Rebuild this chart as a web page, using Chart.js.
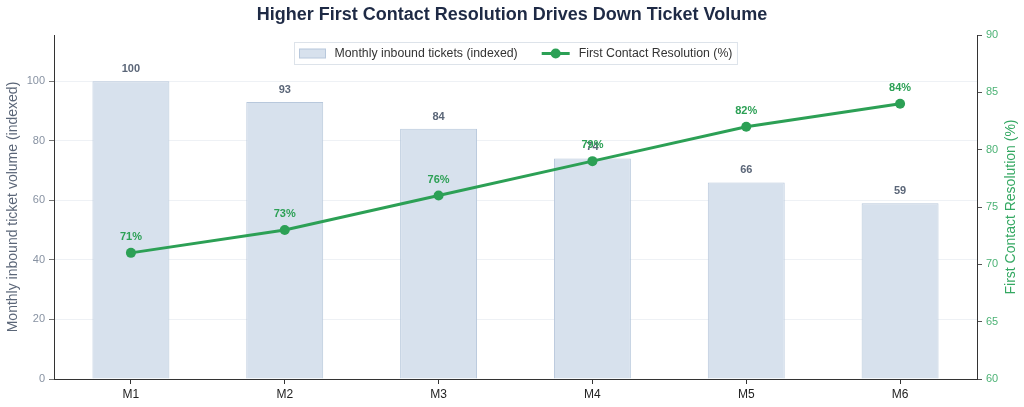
<!DOCTYPE html>
<html>
<head>
<meta charset="utf-8">
<script src="https://cdn.jsdelivr.net/npm/chart.js@4.4.1/dist/chart.umd.min.js"></script>
<style>
    html, body { margin: 0; padding: 0; background: #fff; }
    #wrap { width: 1024px; height: 407px; position: relative; }
</style>
</head>
<body>
<div id="wrap"><canvas id="myChart"></canvas></div>
<script>
// Chart data
var months = ["M1", "M2", "M3", "M4", "M5", "M6"];
var ticketVolume = [100, 93, 84, 74, 66, 59];
var fcrRate = [71, 73, 76, 79, 82, 84];
var volumeTicks = [0, 20, 40, 60, 80, 100];
var fcrTicks = [60, 65, 70, 75, 80, 85, 90];

var FONT = '"Liberation Sans", Arial, sans-serif';
var GREEN = "#2ca055";
var BAR_FILL = "#d7e1ed";
var BAR_EDGE = "#b8c8dc";

// Value labels, right axis title and the boxed legend inside the plot
var extras = {
    id: "extras",
    afterDatasetsDraw(chart) {
        var ctx = chart.ctx;
        ctx.save();
        ctx.textAlign = "center";
        ctx.textBaseline = "middle";
        ctx.font = "bold 11px " + FONT;
        ctx.fillStyle = "#5b6678";
        chart.getDatasetMeta(0).data.forEach((bar, i) => {
            ctx.fillText(ticketVolume[i], bar.x, bar.y - 12);
        });
        ctx.fillStyle = GREEN;
        chart.getDatasetMeta(1).data.forEach((pt, i) => {
            ctx.fillText(fcrRate[i] + "%", pt.x, pt.y - 16);
        });
        ctx.restore();
    },
    afterDraw(chart) {
        var ctx = chart.ctx;
        var area = chart.chartArea;

        // right axis title, reading bottom to top
        ctx.save();
        ctx.translate(1011, (area.top + area.bottom) / 2);
        ctx.rotate(-Math.PI / 2);
        ctx.textAlign = "center";
        ctx.textBaseline = "middle";
        ctx.font = "14px " + FONT;
        ctx.fillStyle = "#34a862";
        ctx.fillText("First Contact Resolution (%)", 0, 0);
        ctx.restore();

        // legend
        var ds = chart.data.datasets;
        ctx.save();
        ctx.font = "12.3px " + FONT;
        var w1 = ctx.measureText(ds[0].label).width;
        var w2 = ctx.measureText(ds[1].label).width;
        var total = 5 + 26 + 9 + w1 + 24 + 28 + 9 + w2 + 5;
        var left = Math.round((area.left + area.right) / 2 - total / 2) + 0.5;
        var top = Math.round(area.top + 7) + 0.5;
        var h = 22;
        var cy = top + h / 2;
        ctx.fillStyle = "rgba(255,255,255,0.85)";
        ctx.fillRect(left, top, total, h);
        ctx.strokeStyle = "#dde3ea";
        ctx.lineWidth = 1;
        ctx.strokeRect(left, top, total, h);

        var x = left + 5;
        ctx.fillStyle = BAR_FILL;
        ctx.fillRect(x, cy - 4.5, 26, 9);
        ctx.strokeStyle = BAR_EDGE;
        ctx.strokeRect(x, cy - 4.5, 26, 9);
        x += 26 + 9;
        ctx.fillStyle = "#333";
        ctx.textBaseline = "middle";
        ctx.fillText(ds[0].label, x, cy);
        x += w1 + 24;
        ctx.strokeStyle = GREEN;
        ctx.lineWidth = 3;
        ctx.beginPath(); ctx.moveTo(x, cy); ctx.lineTo(x + 28, cy); ctx.stroke();
        ctx.fillStyle = GREEN;
        ctx.beginPath(); ctx.arc(x + 14, cy, 5, 0, Math.PI * 2); ctx.fill();
        x += 28 + 9;
        ctx.fillStyle = "#333";
        ctx.fillText(ds[1].label, x, cy);
        ctx.restore();
    }
};

var chartData = {
    labels: months,
    datasets: [
        {
            type: "bar",
            label: "Monthly inbound tickets (indexed)",
            data: ticketVolume,
            yAxisID: "y",
            backgroundColor: BAR_FILL,
            borderColor: BAR_EDGE,
            borderWidth: 1,
            barPercentage: 0.5,
            categoryPercentage: 1,
            order: 2
        },
        {
            type: "line",
            label: "First Contact Resolution (%)",
            data: fcrRate,
            yAxisID: "y1",
            borderColor: GREEN,
            backgroundColor: GREEN,
            borderWidth: 3,
            pointRadius: 5,
            pointBackgroundColor: GREEN,
            pointBorderWidth: 0,
            fill: false,
            tension: 0,
            order: 1
        }
    ]
};

var config = {
    data: chartData,
    options: {
        responsive: true,
        maintainAspectRatio: false,
        animation: false,
        layout: { padding: 0 },
        plugins: {
            title: {
                display: true,
                text: "Higher First Contact Resolution Drives Down Ticket Volume",
                color: "#1e2a45",
                font: { family: FONT, size: 18, weight: "bold", lineHeight: 1.2 },
                padding: { top: 4, bottom: 9.4 }
            },
            legend: { display: false },
            tooltip: { enabled: false }
        },
        scales: {
            x: {
                grid: { display: true, offset: false, drawOnChartArea: false, tickLength: 5, color: "#333" },
                border: { display: true, color: "#333", width: 1 },
                ticks: { color: "#222", font: { family: FONT, size: 12 }, padding: 3 },
                afterFit(scale) { scale.height = 28; }
            },
            y: {
                position: "left",
                min: 0,
                max: 115.5,
                afterBuildTicks(scale) {
                    scale.ticks = volumeTicks.map(v => ({ value: v }));
                },
                grid: { color: "#eef1f5", tickColor: "#777", tickLength: 5 },
                border: { display: true, color: "#333", width: 1 },
                ticks: { color: "#8792a2", font: { family: FONT, size: 11 }, padding: 4 },
                title: {
                    display: true,
                    text: "Monthly inbound ticket volume (indexed)",
                    color: "#5b6678",
                    font: { family: FONT, size: 14, lineHeight: 1.2 },
                    padding: { top: 5, bottom: 0 }
                },
                afterFit(scale) { scale.width = 54; }
            },
            y1: {
                position: "right",
                min: 60,
                max: 90,
                afterBuildTicks(scale) {
                    scale.ticks = fcrTicks.map(v => ({ value: v }));
                },
                grid: { drawOnChartArea: false, tickColor: "#555", tickLength: 5 },
                border: { display: true, color: "#333", width: 1 },
                ticks: { color: "#4cb275", font: { family: FONT, size: 11 }, padding: 4 },
                afterFit(scale) { scale.width = 47; }
            }
        }
    },
    plugins: [extras]
};

var myChart = new Chart(document.getElementById("myChart"), config);
</script>
</body>
</html>
